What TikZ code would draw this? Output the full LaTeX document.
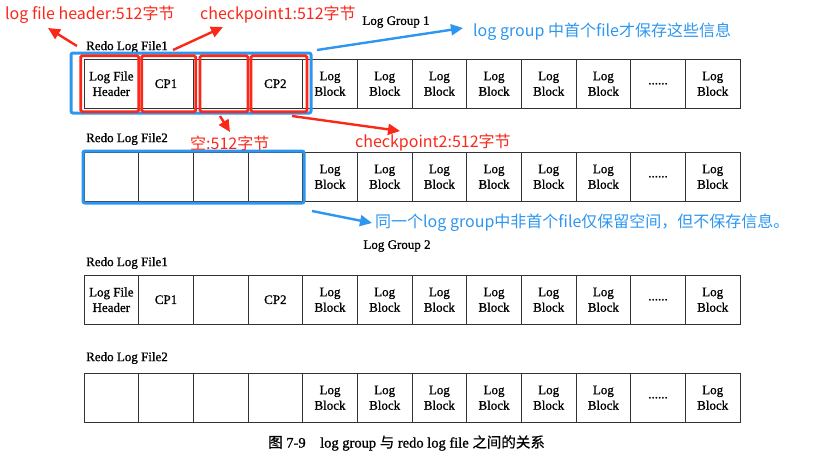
\documentclass[tikz,border=0pt]{standalone}
\usepackage{fontspec}
\setmainfont{Liberation Serif}[FakeBold=1]
\newfontfamily\cjk{Noto Sans CJK SC}
\newfontfamily\cjkcap{Noto Sans CJK SC}[FakeBold=0.5]
\usetikzlibrary{arrows.meta}

\definecolor{markred}{RGB}{250,40,25}
\definecolor{markblue}{RGB}{45,150,240}

\tikzset{
  cell/.style={draw=black!80, line width=0.9pt, minimum width=54.67pt, minimum height=49.5pt,
    inner sep=0pt, align=center, font=\fontsize{13}{15.5}\selectfont},
  filelabel/.style={anchor=west, inner sep=0pt, font=\fontsize{13}{15}\selectfont},
  redbox/.style={draw=markred, line width=2.7pt, rounded corners=1.5pt},
  bluebox/.style={draw=markblue, line width=3pt, rounded corners=2pt},
  redarrow/.style={draw=markred, line width=2.4pt, -{Triangle[length=12pt,width=11pt]}},
  bluearrow/.style={draw=markblue, line width=2.4pt, -{Triangle[length=12pt,width=11pt]}},
  redtext/.style={anchor=west, inner sep=0pt, text=markred, font=\cjk\fontsize{16}{18}\selectfont},
  bluetext/.style={anchor=west, inner sep=0pt, text=markblue, font=\cjk\fontsize{16}{18}\selectfont}
}

\begin{document}
\begin{tikzpicture}[x=1pt, y=-1pt]
    \useasboundingbox (0,0) rectangle (817,469);
    \def\w{54.67}
    \def\h{49.5}
    \def\xo{84}
    % first file of each group
    \foreach \r/\top in {a/59, c/275}{
        \foreach \i/\txt in {1/{Log File\\Header}, 2/CP1, 3/{}, 4/CP2, 5/{Log\\Block}, 6/{Log\\Block},
                7/{Log\\Block}, 8/{Log\\Block}, 9/{Log\\Block}, 10/{Log\\Block}, 11/{......}, 12/{Log\\Block}}
            \node[cell] (\r\i) at ({\xo+(\i-0.5)*\w}, {\top+\h/2}) {\txt};
    }
    % second file of each group
    \foreach \r/\top in {b/152, d/373}{
        \foreach \i/\txt in {1/{}, 2/{}, 3/{}, 4/{}, 5/{Log\\Block}, 6/{Log\\Block},
                7/{Log\\Block}, 8/{Log\\Block}, 9/{Log\\Block}, 10/{Log\\Block}, 11/{......}, 12/{Log\\Block}}
            \node[cell] (\r\i) at ({\xo+(\i-0.5)*\w}, {\top+\h/2}) {\txt};
    }
    \node[filelabel] (fa) at (86,47) {Redo Log File1};
    \node[filelabel] (fb) at (86,139) {Redo Log File2};
    \node[filelabel] (fc) at (86,263) {Redo Log File1};
    \node[filelabel] (fd) at (86,358) {Redo Log File2};
    \node[inner sep=0pt, font=\fontsize{13}{15}\selectfont] (g1) at (396,22) {Log Group 1};
    \node[inner sep=0pt, font=\fontsize{13}{15}\selectfont] (g2) at (397,246) {Log Group 2};
    \node[anchor=west, inner sep=0pt, font=\fontsize{14.5}{16}\selectfont] (cap) at (268,443)
        {{\cjkcap 图} 7-9\quad log group {\cjkcap 与} redo log file {\cjkcap 之间的关系}};

    % marks
    \draw[bluebox] (71,53) rectangle (311,113);
    \draw[bluebox] (83,151) rectangle (304,203);
    \foreach \xa/\xb in {80.7/138.7, 141.7/195.7, 200/248, 251/307}
        \draw[redbox] (\xa,55.7) rectangle (\xb,111.7);

    \node[redtext] (hdr) at (5,15) {log file header:512字节};
    \node[redtext] (cpa) at (200,15) {checkpoint1:512字节};
    \node[redtext] (emp) at (190,143) {空:512字节};
    \node[redtext] (cpb) at (355,143) {checkpoint2:512字节};
    \node[bluetext] (note1) at (473,32) {log group 中首个file才保存这些信息};
    \node[bluetext] (note2) at (375,223) {同一个log group中非首个file仅保留空间，但不保存信息。};

    \coordinate (hdrtail) at (77,46);
    \coordinate (hdrtip) at (48,28);
    \coordinate (cpatail) at (173,50);
    \coordinate (cpatip) at (223,27);
    \coordinate (emptail) at (220,116);
    \coordinate (emptip) at (230,132);
    \coordinate (cpbtail) at (292,116);
    \coordinate (cpbtip) at (400,131);
    \coordinate (n1tail) at (317,50);
    \coordinate (n1tip) at (463,28);
    \coordinate (n2tail) at (312,211);
    \coordinate (n2tip) at (372,223);
    \draw[redarrow] (hdrtail) -- (hdrtip);
    \draw[redarrow] (cpatail) -- (cpatip);
    \draw[redarrow] (emptail) -- (emptip);
    \draw[redarrow] (cpbtail) -- (cpbtip);
    \draw[bluearrow] (n1tail) -- (n1tip);
    \draw[bluearrow] (n2tail) -- (n2tip);
\end{tikzpicture}
\end{document}
